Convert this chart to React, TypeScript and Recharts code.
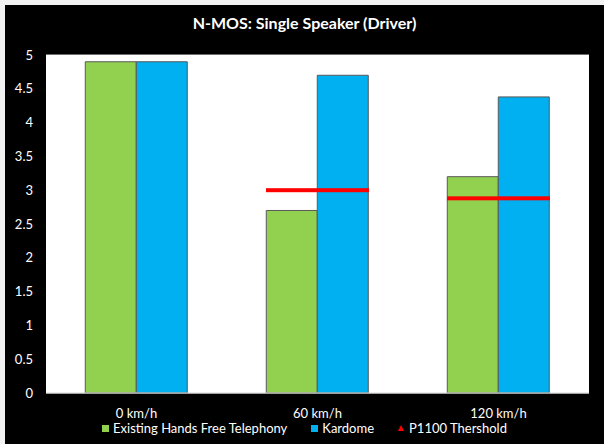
import { ComposedChart, Bar, Line, XAxis, YAxis, CartesianGrid } from 'recharts';

const categories = ['0 km/h', '60 km/h', '120 km/h'];
const existingHft = [4.9, 2.7, 3.2];
const kardome = [4.9, 4.7, 4.38];
const threshold = [null, 3.0, 2.88];
const yTicks = [0, 0.5, 1, 1.5, 2, 2.5, 3, 3.5, 4, 4.5, 5];

const data = categories.map((name, i) => ({
  name,
  hft: existingHft[i],
  kardome: kardome[i],
  threshold: threshold[i],
}));

const FONT = 'Lato, "Open Sans", sans-serif';

// wide dash marker like the excel one, spans both bars
const ThresholdMark = (props: any) => {
  const { cx, cy, value } = props;
  if (value == null || cx == null || cy == null) return <g />;
  return <rect x={cx - 51.5} y={cy - 2} width={103} height={4} fill="#ff0000" />;
};

export default function App() {
  return (
    <div style={{ position: 'absolute', left: 0, top: 0, width: 604, height: 444, background: '#f2f2f2', fontFamily: FONT }}>
      <div style={{ position: 'absolute', left: 5, top: 5, width: 599, height: 439, background: '#000' }}>
        <div style={{ position: 'absolute', left: 0, top: 8, width: 599, textAlign: 'center', color: '#fff', fontWeight: 700, fontSize: 16 }}>
          N-MOS: Single Speaker (Driver)
        </div>
        <ComposedChart
          width={599}
          height={439}
          data={data}
          margin={{ top: 50, right: 15, left: 0, bottom: 0 }}
          barCategoryGap="21.7%"
          barGap={0}
        >
          <rect x={41} y={50} width={543} height={338} fill="#fff" />
          <CartesianGrid vertical={false} stroke="#d9d9d9" />
          <XAxis
            dataKey="name"
            axisLine={{ stroke: '#d9d9d9' }}
            tickLine={false}
            tickSize={0}
            tickMargin={16}
            height={51}
            tick={{ fill: '#fff', fontSize: 13, fontFamily: FONT }}
          />
          <YAxis
            domain={[0, 5]}
            ticks={yTicks}
            width={41}
            axisLine={false}
            tickLine={false}
            tickSize={0}
            tickMargin={13}
            tick={{ fill: '#fff', fontSize: 13, fontFamily: FONT }}
          />
          <Bar dataKey="hft" fill="#92d050" stroke="#595959" strokeWidth={1} isAnimationActive={false} />
          <Bar dataKey="kardome" fill="#00b0f0" stroke="#595959" strokeWidth={1} isAnimationActive={false} />
          <Line
            dataKey="threshold"
            stroke="none"
            dot={<ThresholdMark />}
            activeDot={false}
            connectNulls={false}
            isAnimationActive={false}
          />
        </ComposedChart>
        <div style={{ position: 'absolute', left: 0, top: 415, width: 599, display: 'flex', justifyContent: 'center', alignItems: 'center', color: '#fff', fontSize: 13, gap: 24 }}>
          <span style={{ display: 'flex', alignItems: 'center' }}>
            <span style={{ width: 7, height: 7, background: '#92d050', marginRight: 4 }} />
            Existing Hands Free Telephony
          </span>
          <span style={{ display: 'flex', alignItems: 'center' }}>
            <span style={{ width: 7, height: 7, background: '#00b0f0', marginRight: 4 }} />
            Kardome
          </span>
          <span style={{ display: 'flex', alignItems: 'center' }}>
            <svg width={6} height={6} style={{ marginRight: 5 }}>
              <polygon points="3,0 6,6 0,6" fill="#ff0000" />
            </svg>
            P1100 Thershold
          </span>
        </div>
      </div>
    </div>
  );
}
